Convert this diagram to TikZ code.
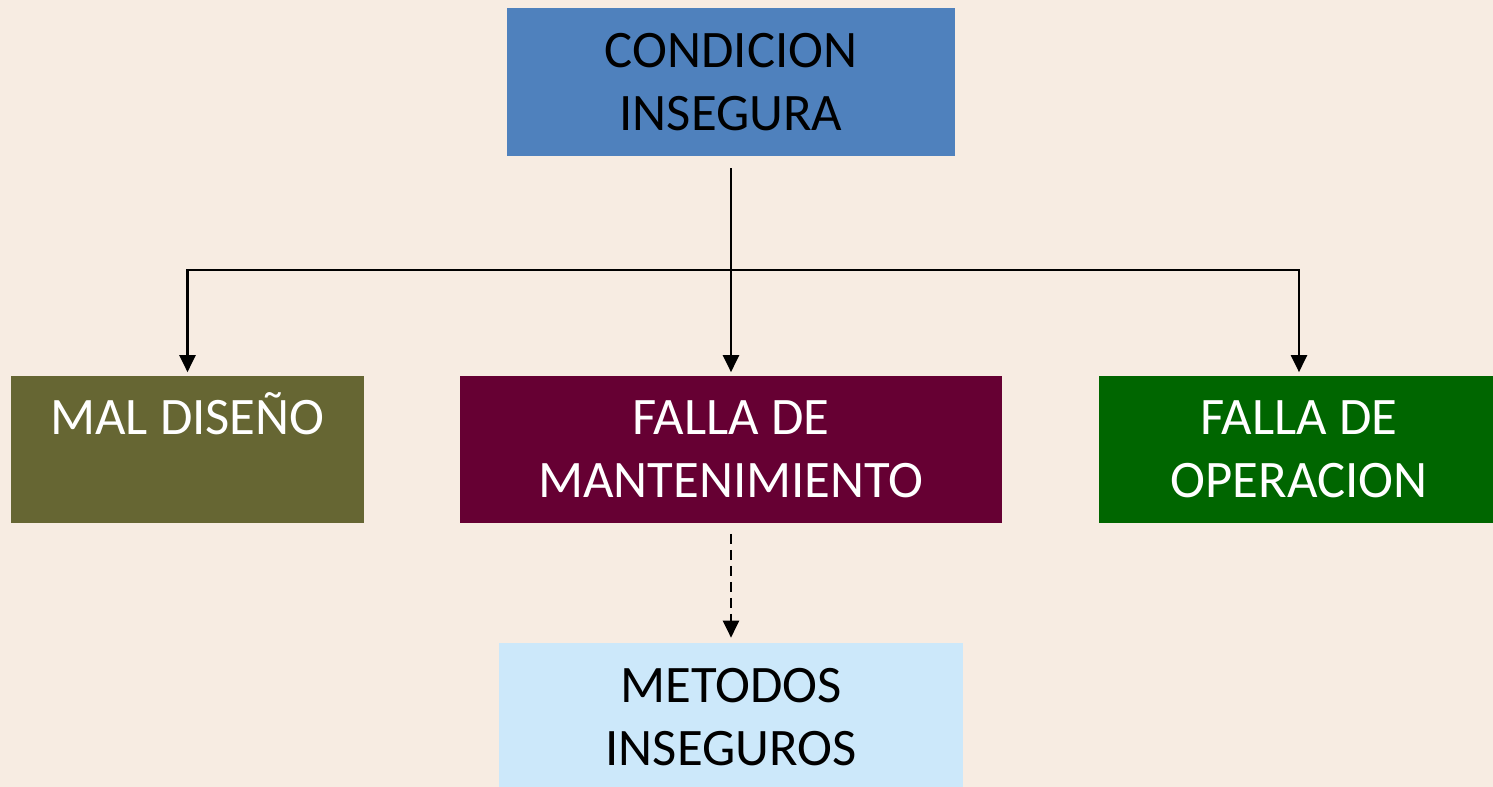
\documentclass[tikz,border=0pt]{standalone}
\usepackage{fontspec}
\setmainfont{Carlito}
\usetikzlibrary{arrows.meta,positioning}
\definecolor{fondo}{RGB}{247,236,226}
\definecolor{azul}{RGB}{79,129,189}
\definecolor{oliva}{RGB}{102,102,51}
\definecolor{granate}{RGB}{102,0,51}
\definecolor{verde}{RGB}{0,102,0}
\definecolor{celeste}{RGB}{204,232,250}

\begin{document}
\begin{tikzpicture}[x=0.02cm,y=-0.02cm,
    caja/.style={minimum height=2.96cm, inner sep=0pt, align=center,
      font=\fontsize{30}{35.85}\selectfont},
    flecha/.style={-{Triangle[length=0.34cm,width=0.32cm]}, line width=0.045cm}]
  % fondo
  \fill[fondo] (0,0) rectangle (1493,787);
  \useasboundingbox (0,0) rectangle (1493,787);
  \clip (0,0) rectangle (1493,787);

  % cajas
  \node[caja, fill=azul, minimum width=8.96cm] (cond) at (731,82) {CONDICION\\INSEGURA};
  \node[caja, fill=oliva, text=white, minimum width=7.06cm] (diseno) at (187.5,449.5) {MAL DISE\smash{Ñ}O\\\phantom{O}};
  \node[caja, fill=granate, text=white, minimum width=10.86cm] (mant) at (731,449.5) {FALLA DE\\MANTENIMIENTO};
  \node[caja, fill=verde, text=white, minimum width=8cm] (oper) at (1299,449.5) {FALLA DE\\OPERACION};
  \node[caja, fill=celeste, minimum width=9.28cm] (metodos) at (731,717) {METODOS\\INSEGUROS};

  % flechas
  \coordinate (cruce) at (731,270);
  \draw[flecha, shorten <=0.24cm, shorten >=0.06cm] (cond) -- (mant);
  \draw[flecha, shorten >=0.06cm] (cruce) -| (diseno.north);
  \draw[flecha, shorten >=0.06cm] (cruce) -| (oper.north);
  \draw[flecha, dash pattern=on 0.2cm off 0.12cm, shorten <=0.2cm, shorten >=0.1cm] (mant) -- (metodos);
\end{tikzpicture}
\end{document}
